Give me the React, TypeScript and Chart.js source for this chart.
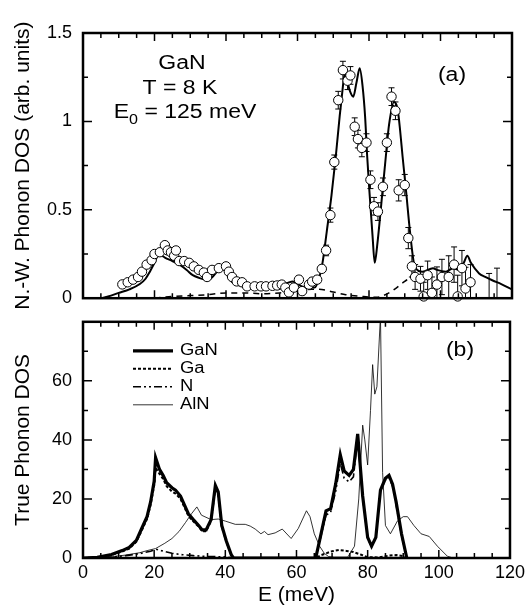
import React, { useEffect, useRef } from "react";
import { Chart, registerables } from "chart.js";
Chart.register(...registerables);

const FONT = "'Liberation Sans', Arial, Helvetica, sans-serif";
const STRETCH = 1.15;

// ---------- Panel (a): neutron-weighted phonon DOS ----------
const calcE = [0, 4.7, 7, 10, 13, 15.9, 17.5, 18.7, 20, 21, 22, 22.9, 25, 27, 29, 30.7, 32.5, 34.4, 35.5, 36.2, 37.5, 39, 40, 41.8, 43.5, 45.6, 49.4, 52, 55, 57, 58.7, 60, 61.5, 64.8, 66, 67, 68.2, 69.5, 70.7, 71.8, 72.5, 73.2, 74, 74.7, 75.6, 76.5, 77.4, 78.2, 78.9, 79.5, 80.2, 81, 81.6, 82.3, 83.8, 84.7, 85.6, 87, 88, 88.7, 89.4, 90.4, 91.4, 92.8, 95, 97.9, 99, 101.5, 103.5, 105.3, 106.5, 107.5, 108.5, 110.8, 112.5, 114.6, 117, 120];
const calcV = [0, 0, 0.01, 0.03, 0.05, 0.08, 0.11, 0.15, 0.2, 0.24, 0.24, 0.23, 0.21, 0.19, 0.16, 0.13, 0.115, 0.105, 0.11, 0.12, 0.15, 0.18, 0.15, 0.09, 0.075, 0.065, 0.06, 0.065, 0.075, 0.085, 0.095, 0.08, 0.065, 0.06, 0.11, 0.2, 0.38, 0.58, 0.8, 1.03, 1.16, 1.27, 1.22, 1.17, 1.14, 1.22, 1.3, 1.2, 1.03, 0.8, 0.58, 0.35, 0.2, 0.3, 0.61, 0.8, 0.98, 1.11, 1.07, 0.95, 0.8, 0.6, 0.39, 0.18, 0.15, 0.17, 0.16, 0.15, 0.17, 0.16, 0.2, 0.24, 0.2, 0.14, 0.12, 0.1, 0.08, 0.05];

const multiE = [20, 25, 30, 35, 40, 45, 50, 55, 60, 64, 66, 70, 73.5, 78, 82, 84, 86.4, 89, 92, 93];
const multiV = [0, 0.01, 0.015, 0.02, 0.03, 0.03, 0.025, 0.03, 0.04, 0.05, 0.05, 0.035, 0.02, 0.01, 0.005, 0.015, 0.04, 0.08, 0.13, 0.16];

const expE = [
  11, 12.5, 14, 15.4, 16.5, 17.8, 19.2, 20, 21.5, 22.9,
  23.7, 24.6, 25.5, 26, 26.9, 28.3, 29.7, 31, 32.4, 33.8,
  34.7, 36.1, 38, 40, 40.8, 41.7, 43, 44.5, 45.9, 48,
  49.8, 51.2, 53, 54.3, 55.6, 56.6, 57.6, 59, 60.4, 61.3,
  63.2, 64.1, 65.5, 66.8, 68, 69.2, 70.3, 71.4, 72.7, 74,
  74.8, 76, 76.9, 78, 79.3, 80.4, 81.4, 82.5, 83.9, 85,
  86.3, 87.4, 88.3, 90, 91, 92, 92.9, 94.4, 95.3, 96.4,
  97.6, 99, 100.4, 102.3, 103.8, 104.8, 106, 107, 108.4, 113.6,
  115.8,
];
const expV = [
  0.078, 0.09, 0.105, 0.12, 0.15, 0.19, 0.215, 0.25, 0.26, 0.3,
  0.27, 0.26, 0.24, 0.27, 0.21, 0.21, 0.2, 0.18, 0.16, 0.145,
  0.12, 0.16, 0.17, 0.18, 0.15, 0.12, 0.095, 0.09, 0.067, 0.067,
  0.067, 0.067, 0.07, 0.072, 0.077, 0.06, 0.033, 0.06, 0.105, 0.04,
  0.077, 0.094, 0.105, 0.166, 0.27, 0.47, 0.77, 1.12, 1.29, 1.23,
  1.26, 0.97, 0.9, 0.85, 0.88, 0.67, 0.52, 0.49, 0.63, 0.88,
  1.14, 1.06, 0.61, 0.64, 0.34, 0.18, 0.12, 0.11, 0.01, 0.13,
  0.03, 0.077, 0.12, 0.12, 0.19, 0.01, 0.17, 0.055, 0.09, -0.08,
  -0.08,
];
const expErr = [
  0, 0, 0, 0, 0, 0, 0, 0, 0, 0,
  0, 0, 0, 0, 0, 0, 0, 0, 0, 0,
  0, 0, 0, 0, 0, 0, 0, 0, 0, 0,
  0, 0, 0, 0, 0, 0, 0, 0, 0.02, 0.02,
  0.02, 0.02, 0.02, 0.02, 0.03, 0.04, 0.04, 0.05, 0.05, 0.05,
  0.05, 0.05, 0.05, 0.05, 0.05, 0.05, 0.05, 0.05, 0.05, 0.05,
  0.05, 0.05, 0.06, 0.06, 0.06, 0.06, 0.07, 0.07, 0.08, 0.08,
  0.09, 0.1, 0.1, 0.12, 0.1, 0.12, 0.1, 0.12, 0.1, 0.22,
  0.25,
];

// ---------- Panel (b): true phonon DOS ----------
const ganE = [0, 4, 8, 11, 13, 15, 16.5, 18, 19, 20, 20.4, 21.5, 22.5, 23.5, 25, 26, 27.4, 28.5, 29.6, 31, 32.5, 33.5, 34.6, 36, 37.2, 38, 39, 40.3, 41.7, 42.3, 65.4, 66.5, 68.3, 69.6, 71, 72.3, 73.4, 74.8, 76, 77.2, 78.6, 80, 81.1, 82.3, 83.6, 85, 86, 87, 88, 89.5, 91];
const ganV = [0, 0.2, 1.2, 2.5, 3.6, 6, 10, 14, 19, 26, 34, 30, 28, 25.5, 23.8, 23, 21, 18, 15, 13, 11, 9.5, 9.5, 13, 24.6, 22.4, 11, 5.7, 1, 0, 0, 6, 16, 16.7, 25, 35, 29.5, 28, 30, 42, 21, 7, 4, 7, 23, 27, 28, 25, 19, 8.3, 0];

const gaE = [0, 4, 8, 11, 13, 15, 16.5, 18, 19, 20, 20.4, 21.5, 22.5, 23.5, 25, 26, 27.4, 28.5, 29.6, 31, 32.5, 33.5, 34.6, 36, 37.2, 38, 39, 40.3, 41.7, 42.3, 65.4, 67, 70, 72, 74, 76, 78, 80, 83, 86, 88, 90, 91];
const gaV = [0, 0.2, 1.0, 2.2, 3.2, 5.5, 9.3, 13.2, 18, 24.5, 30.5, 28.5, 26.8, 24.3, 22.5, 21.8, 20, 17.2, 14.3, 12.4, 10.6, 9.1, 9.1, 12.5, 23.8, 21.8, 10.6, 5.5, 0.9, 0, 0, 1, 2.3, 2.7, 2.4, 2, 1.2, 0.3, 0.2, 0.8, 1, 0.6, 0];

const nE = [0, 8, 12, 16, 19, 20.5, 22, 25, 28, 31, 35, 40, 42.3, 65.4, 66.5, 68.3, 69.6, 71, 72.3, 73.4, 74.8, 76, 77.2, 78.6, 80, 81.1, 82.3, 83.6, 85, 86, 87, 88, 89.5, 91];
const nV = [0, 0.3, 0.8, 1.5, 2.3, 3, 2.5, 1.6, 1.1, 0.8, 0.5, 0.4, 0, 0, 5.5, 14.5, 15.5, 22.5, 32, 27, 25.8, 27.5, 40.5, 20.5, 6.7, 3.8, 6.8, 22.8, 26.5, 27.2, 24.3, 18, 7.7, 0];

const alnE = [0, 5, 8, 12, 16, 18, 20.4, 23, 25, 27, 28.8, 30.5, 32, 33.3, 36, 38, 40, 42.8, 45.6, 47, 48.4, 50, 51, 52, 54, 56, 58.5, 60.5, 62.8, 63.8, 65, 66.5, 67.8, 69, 70.6, 74.4, 76.3, 77.5, 78.6, 79.2, 80, 80.8, 81.4, 82, 82.6, 83.6, 84.2, 85, 86.4, 88.4, 90, 91.2, 93, 95, 97.3, 99.6, 102.4, 104];
const alnV = [0, 0.1, 0.4, 1, 1.8, 2.5, 3.2, 5, 6.6, 9, 12, 15, 17.3, 14.5, 13, 13.2, 12.5, 11.4, 11.4, 10.8, 9.8, 8.2, 9, 7.9, 8.5, 9.8, 6.6, 10, 16, 14, 8.2, 4, 1.6, 0.5, 0.3, 0.3, 4, 20, 45, 40, 31.5, 50, 65.5, 55.5, 58, 82, 29, 11, 8.2, 12.6, 14, 14, 11, 8.2, 7.3, 4, 0.6, 0];

// ---------- ticks and labels ----------
const xTickValues = [0, 20, 40, 60, 80, 100, 120];
const topYTickValues = [0, 0.5, 1, 1.5];
const botYTickValues = [0, 20, 40, 60];
const legendLabels = ["GaN", "Ga", "N", "AlN"];

const pts = (xs: number[], ys: number[]) => xs.map((x, i) => ({ x, y: ys[i] }));

type Part = { t: string; sub?: boolean };
function drawText(ctx: CanvasRenderingContext2D, parts: Part[], x: number, y: number, size: number, align: "left" | "center") {
  ctx.save();
  const fontFor = (p: Part) => `${p.sub ? Math.round(size * 0.7) : size}px ${FONT}`;
  const widths = parts.map((p) => { ctx.font = fontFor(p); return ctx.measureText(p.t).width; });
  const total = widths.reduce((s, w) => s + w, 0);
  ctx.translate(x, y);
  ctx.scale(STRETCH, 1);
  let cx = align === "center" ? -total / 2 : 0;
  ctx.fillStyle = "#000";
  ctx.textBaseline = "middle";
  ctx.textAlign = "left";
  parts.forEach((p, i) => {
    ctx.font = fontFor(p);
    ctx.fillText(p.t, cx, p.sub ? size * 0.4 : 0);
    cx += widths[i];
  });
  ctx.restore();
}

const makeFrame = (xStep: number, xMajor: number, yStep: number, yMajor: number) => ({
  id: "frame",
  afterDatasetsDraw(chart: any) {
    const { ctx, chartArea: a, scales } = chart;
    const xs = scales.x, ys = scales.y;
    const isMaj = (v: number, m: number) => Math.abs(v / m - Math.round(v / m)) < 1e-6;
    ctx.save();
    ctx.strokeStyle = "#000";
    ctx.lineWidth = 1.5;
    ctx.beginPath();
    for (let v = xs.min; v <= xs.max + 1e-6; v += xStep) {
      const p = xs.getPixelForValue(v);
      const L = isMaj(v, xMajor) ? 8 : 5;
      ctx.moveTo(p, a.bottom); ctx.lineTo(p, a.bottom - L);
      ctx.moveTo(p, a.top); ctx.lineTo(p, a.top + L);
    }
    for (let v = ys.min; v <= ys.max + 1e-6; v += yStep) {
      const p = ys.getPixelForValue(v);
      const L = isMaj(v, yMajor) ? 9 : 5;
      ctx.moveTo(a.left, p); ctx.lineTo(a.left + L, p);
      ctx.moveTo(a.right, p); ctx.lineTo(a.right - L, p);
    }
    ctx.stroke();
    ctx.lineWidth = 2.5;
    ctx.strokeRect(a.left, a.top, a.right - a.left, a.bottom - a.top);
    ctx.restore();
  },
});

const errPlugin = {
  id: "errbars",
  beforeDatasetsDraw(chart: any) {
    const { ctx, chartArea: a, scales } = chart;
    const xs = scales.x, ys = scales.y;
    ctx.save();
    ctx.beginPath();
    ctx.rect(a.left, a.top, a.right - a.left, a.bottom - a.top);
    ctx.clip();
    ctx.strokeStyle = "#000";
    ctx.lineWidth = 1;
    ctx.beginPath();
    expE.forEach((e, i) => {
      const err = expErr[i];
      if (!err) return;
      const px = xs.getPixelForValue(e);
      const yt = ys.getPixelForValue(expV[i] + err);
      const yb = ys.getPixelForValue(expV[i] - err);
      ctx.moveTo(px, yb); ctx.lineTo(px, yt);
      ctx.moveTo(px - 3, yt); ctx.lineTo(px + 3, yt);
      ctx.moveTo(px - 3, yb); ctx.lineTo(px + 3, yb);
    });
    ctx.stroke();
    ctx.restore();
  },
};

const topNotes = {
  id: "notesA",
  afterDraw(chart: any) {
    const ctx = chart.ctx;
    drawText(ctx, [{ t: "GaN" }], 182, 63, 20, "center");
    drawText(ctx, [{ t: "T = 8 K" }], 180, 88, 20, "center");
    drawText(ctx, [{ t: "E" }, { t: "0", sub: true }, { t: " = 125 meV" }], 185, 112, 20, "center");
    drawText(ctx, [{ t: "(a)" }], 452, 75, 20, "center");
  },
};

const botNotes = {
  id: "notesB",
  afterDraw(chart: any) {
    const { ctx, chartArea: a } = chart;
    drawText(ctx, [{ t: "(b)" }], 460, 50, 20, "center");
    chart.data.datasets.forEach((ds: any, i: number) => {
      const y = a.top + 29 + i * 18;
      ctx.save();
      ctx.strokeStyle = "#000";
      ctx.lineWidth = ds.borderWidth;
      ctx.setLineDash(ds.borderDash || []);
      ctx.beginPath();
      ctx.moveTo(a.left + 50, y);
      ctx.lineTo(a.left + 90, y);
      ctx.stroke();
      ctx.restore();
      drawText(ctx, [{ t: ds.label }], a.left + 97, y, 16, "left");
    });
  },
};

const yScale = (min: number, max: number, ticks: number[], title: string) => ({
  type: "linear" as const,
  min,
  max,
  afterBuildTicks: (s: any) => { s.ticks = ticks.map((v) => ({ value: v })); },
  afterFit: (s: any) => { s.width = 83; },
  grid: { display: false, drawTicks: false },
  border: { display: false },
  ticks: { color: "#000", padding: 11, font: { family: FONT, size: 18 }, callback: (v: any) => String(v) },
  title: { display: true, text: title, color: "#000", font: { family: FONT, size: 21 }, padding: { top: 11, bottom: 0 } },
});

export default function App() {
  const topRef = useRef<HTMLCanvasElement>(null);
  const botRef = useRef<HTMLCanvasElement>(null);

  useEffect(() => {
    Chart.defaults.font.family = FONT;
    const top = new Chart(topRef.current as HTMLCanvasElement, {
      type: "line",
      data: {
        datasets: [
          {
            label: "Experiment",
            data: pts(expE, expV),
            showLine: false,
            pointRadius: 4.7,
            pointBackgroundColor: "#fff",
            pointBorderColor: "#000",
            pointBorderWidth: 1,
            order: 0,
            clip: { left: 0, right: 0, top: 0, bottom: 5 } as any,
          },
          {
            label: "Calculated",
            data: pts(calcE, calcV),
            borderColor: "#000",
            borderWidth: 2,
            pointRadius: 0,
            cubicInterpolationMode: "monotone",
            order: 1,
            clip: 0 as any,
          },
          {
            label: "Multiphonon",
            data: pts(multiE, multiV),
            borderColor: "#000",
            borderWidth: 1.5,
            borderDash: [6, 5],
            pointRadius: 0,
            cubicInterpolationMode: "monotone",
            order: 2,
            clip: 0 as any,
          },
        ],
      },
      options: {
        animation: false,
        responsive: false,
        maintainAspectRatio: false,
        events: [],
        layout: { padding: { top: 33, right: 17, bottom: 16, left: 0 } },
        plugins: { legend: { display: false }, tooltip: { enabled: false } },
        scales: {
          x: { type: "linear", min: 0, max: 120, display: false },
          y: yScale(0, 1.5, topYTickValues, "N.-W. Phonon DOS (arb. units)") as any,
        },
      },
      plugins: [errPlugin, makeFrame(5, 20, 0.25, 0.5), topNotes],
    });

    const bot = new Chart(botRef.current as HTMLCanvasElement, {
      type: "line",
      data: {
        datasets: [
          { label: legendLabels[0], data: pts(ganE, ganV), borderColor: "#000", borderWidth: 3.2, pointRadius: 0, order: 0, clip: 0 as any },
          { label: legendLabels[1], data: pts(gaE, gaV), borderColor: "#000", borderWidth: 2, borderDash: [3, 2], pointRadius: 0, order: 1, clip: 0 as any },
          { label: legendLabels[2], data: pts(nE, nV), borderColor: "#000", borderWidth: 1.6, borderDash: [8, 3, 2, 3, 2, 3], pointRadius: 0, order: 2, clip: 0 as any },
          { label: legendLabels[3], data: pts(alnE, alnV), borderColor: "#000", borderWidth: 0.8, pointRadius: 0, order: 3, clip: 0 as any },
        ],
      },
      options: {
        animation: false,
        responsive: false,
        maintainAspectRatio: false,
        events: [],
        layout: { padding: { top: 4, right: 17, bottom: 0, left: 0 } },
        plugins: { legend: { display: false }, tooltip: { enabled: false } },
        scales: {
          x: {
            type: "linear",
            min: 0,
            max: 120,
            afterBuildTicks: (s: any) => { s.ticks = xTickValues.map((v) => ({ value: v })); },
            afterFit: (s: any) => { s.height = 50; },
            grid: { display: false, drawTicks: false },
            border: { display: false },
            ticks: { color: "#000", padding: 4, maxRotation: 0, autoSkip: false, font: { family: FONT, size: 18 }, callback: (v: any) => String(v) },
            title: { display: true, text: "E (meV)", color: "#000", font: { family: FONT, size: 21 }, padding: { top: 0, bottom: 0 } },
          } as any,
          y: yScale(0, 80, botYTickValues, "True Phonon DOS") as any,
        },
      },
      plugins: [makeFrame(5, 20, 10, 20), botNotes],
    });

    return () => {
      top.destroy();
      bot.destroy();
    };
  }, []);

  return (
    <div style={{ position: "absolute", left: 0, top: 0, width: 529, height: 608, background: "#fff" }}>
      <canvas ref={topRef} width={529} height={320} style={{ position: "absolute", left: 0, top: 0, width: 529, height: 320 }} />
      <canvas ref={botRef} width={529} height={308} style={{ position: "absolute", left: 0, top: 300, width: 529, height: 308 }} />
    </div>
  );
}
